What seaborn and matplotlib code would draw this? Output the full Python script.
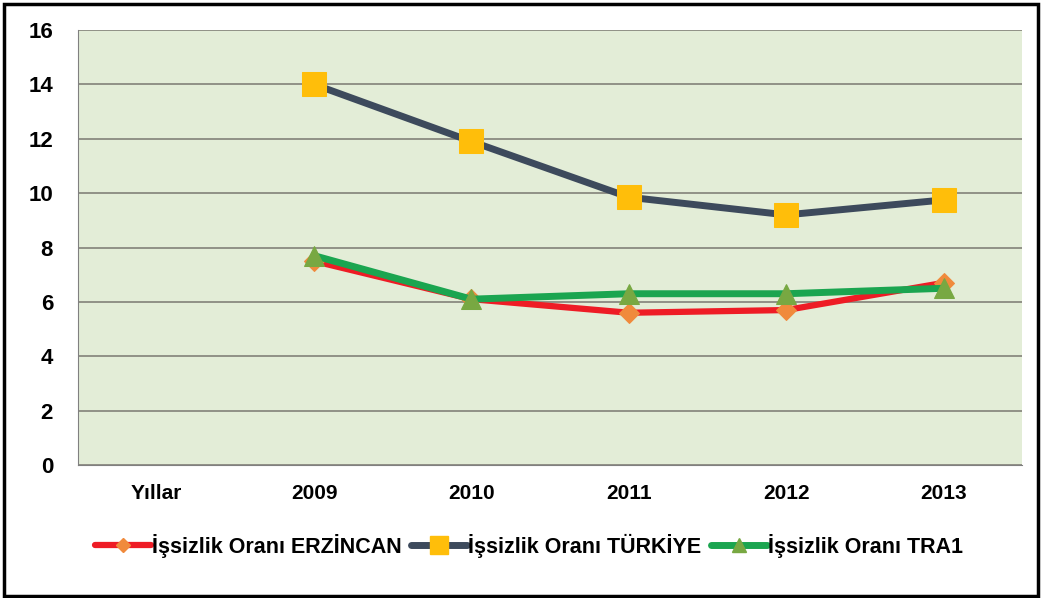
import numpy as np
import pandas as pd
import matplotlib
matplotlib.use("Agg")
import matplotlib.pyplot as plt
import matplotlib.patches as mpatches
import seaborn as sns

# chart values
categories = ["Yıllar", "2009", "2010", "2011", "2012", "2013"]
erzincan = [np.nan, 7.5, 6.1, 5.6, 5.7, 6.7]
turkiye = [np.nan, 14.0, 11.9, 9.85, 9.2, 9.75]
tra1 = [np.nan, 7.7, 6.1, 6.3, 6.3, 6.5]
series_names = ["İşsizlik Oranı ERZİNCAN", "İşsizlik Oranı TÜRKİYE", "İşsizlik Oranı TRA1"]

sns.set_style("white")
plt.rcParams['font.family'] = ['Liberation Sans', 'DejaVu Sans']
plt.rcParams['font.weight'] = 'bold'
plt.rcParams['text.color'] = 'black'
plt.rcParams['xtick.color'] = 'black'
plt.rcParams['ytick.color'] = 'black'

rows = []
for name, vals in zip(series_names, [erzincan, turkiye, tra1]):
    for i, v in enumerate(vals):
        rows.append({"pos": i, "Yıl": categories[i], "Oran": v, "Seri": name})
df = pd.DataFrame(rows).dropna()

fig = plt.figure(figsize=(10.41, 5.98), dpi=100)
ax = fig.add_axes([0.075, 0.2224, 0.907, 0.7274])
ax.set_facecolor('#E3EDD7')

styles = {
    series_names[0]: dict(color='#EE1C25', marker='D', mfc='#F08A3C', mec='#F08A3C', ms=10, lw=4.5),
    series_names[1]: dict(color='#3D4A5C', marker='s', mfc='#FFBE0A', mec='#FFBE0A', ms=17, lw=5),
    series_names[2]: dict(color='#1BA550', marker='^', mfc='#78A842', mec='#78A842', ms=14, lw=5),
}

handles = []
for name in series_names:
    st = styles[name]
    sub = df[df["Seri"] == name]
    sns.lineplot(data=sub, x="pos", y="Oran", ax=ax, color=st['color'], lw=st['lw'],
                 marker=st['marker'], markersize=st['ms'], markerfacecolor=st['mfc'],
                 markeredgecolor=st['mec'], legend=False, zorder=3)
    handles.append(plt.Line2D([], [], color=st['color'], lw=st['lw'], marker=st['marker'],
                              markersize=st['ms'] * 0.75, markerfacecolor=st['mfc'],
                              markeredgecolor=st['mec']))

ax.set_xlim(-0.5, len(categories) - 0.5)
ax.set_ylim(0, 16)
ax.set_yticks(np.arange(0, 17, 2))
ax.set_yticklabels([str(v) for v in range(0, 17, 2)], fontsize=16, fontweight='bold')
ax.set_xticks(range(len(categories)))
ax.set_xticklabels(categories, fontsize=15, fontweight='bold')
ax.set_xticks(np.arange(-0.5, len(categories), 1), minor=True)
ax.tick_params(axis='x', which='major', length=0, pad=14)
ax.tick_params(axis='x', which='minor', length=6, color='#808080', direction='out')
ax.tick_params(axis='y', length=6, color='#808080', direction='out', pad=12)
ax.yaxis.grid(True, color='#8A8A80', lw=1.3)
ax.set_axisbelow(True)
for s in ['top', 'right']:
    ax.spines[s].set_visible(False)
ax.spines['left'].set_color('#808080')
ax.spines['bottom'].set_color('#808080')
ax.set_xlabel('')
ax.set_ylabel('')

fig.legend(handles, series_names, loc='center', bbox_to_anchor=(0.508, 0.087), ncol=3,
           frameon=False, handlelength=2.6, handletextpad=0.05, columnspacing=0.45,
           prop={'weight': 'bold', 'size': 15.5})

fig.patches.append(mpatches.Rectangle((0.004, 0.004), 0.993, 0.99, transform=fig.transFigure,
                                      fill=False, edgecolor='black', lw=2.5))

fig.savefig('out.png', dpi=100)
